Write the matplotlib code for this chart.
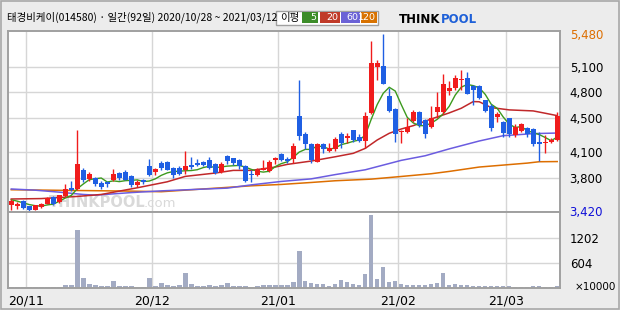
import matplotlib.pyplot as plt
from matplotlib.patches import Rectangle

plt.rcParams['font.family'] = ['Noto Sans CJK KR', 'DejaVu Sans']

title = '태경비케이(014580) · 일간(92일) 2020/10/28 ~ 2021/03/12'
month_labels = ['20/11', '20/12', '21/01', '21/02', '21/03']
month_start = [3, 24, 45, 65, 83]          # first trading day of each month
price_ticks = [5480, 5100, 4800, 4500, 4100, 3800, 3420]
price_labels = ['5,480', '5,100', '4,800', '4,500', '4,100', '3,800', '3,420']
vol_ticks = [1202, 604]

opens = [3480, 3476, 3526, 3468, 3429, 3460, 3499, 3577, 3518, 3585,
         3686, 3667, 3889, 3791, 3795, 3741, 3752, 3772, 3858, 3870,
         3819, 3713, 3772, 3936, 3869, 3975, 3983, 3912, 3920, 3889,
         3947, 3975, 3983, 4014, 3959, 3873, 4053, 4029, 4006, 3943,
         3850, 3834, 3893, 3881, 4010, 4076, 4021, 4021, 4520, 4318,
         4193, 3990, 4193, 4115, 4138, 4310, 4271, 4357, 4275, 4232,
         4556, 5090, 5113, 4762, 4606, 4334, 4333, 4466, 4567, 4474,
         4396, 4567, 4567, 4817, 4848, 4942, 4965, 4871, 4871, 4708,
         4645, 4513, 4450, 4497, 4302, 4349, 4380, 4372, 4216, 4208,
         4216, 4243]
highs = [3557, 3518, 3538, 3472, 3490, 3510, 3575, 3585, 3600, 3733,
         3764, 4357, 3920, 3870, 3810, 3764, 3764, 3908, 3870, 3889,
         3830, 3780, 3792, 4025, 3920, 3998, 3998, 3928, 3936, 4111,
         4045, 4025, 3998, 4045, 3975, 3986, 4072, 4037, 4021, 3951,
         3893, 3912, 4006, 4006, 4049, 4092, 4045, 4205, 4945, 4334,
         4208, 4208, 4208, 4205, 4279, 4341, 4322, 4361, 4310, 4567,
         5402, 5176, 5480, 4848, 4614, 4360, 4497, 4595, 4583, 4489,
         4645, 4801, 5012, 4934, 5004, 5066, 5035, 4887, 4887, 4715,
         4661, 4575, 4466, 4505, 4427, 4439, 4400, 4388, 4341, 4302,
         4263, 4567]
lows = [3429, 3440, 3440, 3420, 3425, 3450, 3495, 3490, 3505, 3580,
        3650, 3660, 3752, 3770, 3702, 3675, 3694, 3764, 3780, 3772,
        3694, 3694, 3733, 3819, 3830, 3889, 3889, 3803, 3830, 3850,
        3908, 3936, 3936, 3908, 3850, 3858, 3960, 3951, 3904, 3756,
        3748, 3826, 3890, 3873, 3959, 3998, 3971, 3971, 4244, 4138,
        3971, 3982, 4088, 4107, 4115, 4154, 4205, 4224, 4224, 4154,
        4544, 4946, 4895, 4567, 4224, 4208, 4322, 4450, 4400, 4271,
        4388, 4497, 4544, 4770, 4829, 4829, 4778, 4653, 4723, 4567,
        4349, 4458, 4283, 4283, 4283, 4341, 4283, 4177, 3998, 4088,
        4205, 4232]
closes = [3526, 3499, 3452, 3429, 3480, 3499, 3569, 3499, 3596, 3667,
          3655, 3959, 3772, 3850, 3725, 3694, 3725, 3842, 3803, 3780,
          3713, 3752, 3749, 3830, 3905, 3920, 3897, 3830, 3842, 3936,
          3928, 3951, 3951, 3920, 3858, 3967, 3998, 3971, 3939, 3764,
          3835, 3893, 3912, 3990, 4037, 4010, 3998, 4177, 4294, 4193,
          4006, 4201, 4138, 4154, 4251, 4205, 4287, 4244, 4232, 4528,
          5140, 5144, 4899, 4583, 4310, 4349, 4400, 4575, 4419, 4310,
          4497, 4626, 4895, 4856, 4965, 4957, 4786, 4825, 4731, 4583,
          4380, 4544, 4322, 4310, 4396, 4427, 4310, 4201, 4201, 4224,
          4240, 4528]
volume = [24, 24, 24, 24, 24, 24, 24, 24, 24, 72, 72, 1387, 239, 96, 72,
          48, 48, 167, 48, 48, 48, 32, 32, 239, 48, 120, 72, 48, 72, 359,
          96, 48, 48, 72, 48, 72, 120, 48, 48, 48, 24, 48, 72, 72, 72, 72,
          72, 143, 885, 167, 120, 96, 96, 48, 96, 191, 143, 96, 72, 335,
          1745, 215, 502, 143, 167, 96, 72, 72, 72, 72, 96, 120, 359, 72,
          96, 72, 72, 48, 48, 48, 48, 48, 48, 48, 24, 24, 24, 48, 48, 24,
          24, 48]

# moving averages
ma5 = [3546, 3530, 3510, 3490, 3477, 3472, 3486, 3495, 3529, 3566,
       3597, 3675, 3730, 3781, 3792, 3800, 3753, 3767, 3758, 3769,
       3773, 3778, 3759, 3765, 3790, 3831, 3860, 3876, 3879, 3885,
       3887, 3897, 3922, 3937, 3922, 3929, 3939, 3943, 3947, 3928,
       3901, 3880, 3869, 3879, 3933, 3968, 3989, 4042, 4103, 4134,
       4134, 4174, 4166, 4138, 4150, 4190, 4207, 4228, 4244, 4299,
       4486, 4658, 4789, 4859, 4815, 4657, 4508, 4443, 4411, 4411,
       4440, 4485, 4549, 4637, 4768, 4860, 4892, 4878, 4853, 4776,
       4661, 4613, 4512, 4428, 4390, 4400, 4353, 4329, 4307, 4273,
       4235, 4279]
ma20_x = [0, 5, 11, 15, 18, 21, 26, 29, 34, 37, 40, 44, 46, 50, 54, 57, 59,
          61, 63, 65, 67, 70, 73, 75, 77, 78, 80, 83, 87, 89, 91]
ma20 = [3555, 3560, 3585, 3608, 3647, 3686, 3756, 3819, 3858, 3889, 3889,
        3928, 3959, 3998, 4048, 4088, 4146, 4244, 4322, 4372, 4411, 4489,
        4560, 4614, 4692, 4690, 4622, 4595, 4583, 4556, 4528]
ma60_x = [0, 4, 8, 12, 14, 17, 20, 25, 30, 36, 40, 45, 50, 54, 59, 65, 69,
          73, 78, 82, 87, 91]
ma60 = [3672, 3658, 3635, 3608, 3600, 3615, 3630, 3650, 3665, 3682, 3720,
        3760, 3790, 3840, 3896, 4006, 4060, 4140, 4232, 4294, 4318, 4325]
ma120_x = [0, 10, 20, 25, 30, 35, 40, 45, 50, 54, 60, 65, 70, 73, 78, 82,
           86, 88, 91]
ma120 = [3663, 3655, 3647, 3640, 3663, 3686, 3709, 3725, 3748, 3768, 3787,
         3818, 3850, 3877, 3928, 3951, 3974, 3990, 3992]

UP, DOWN = '#f01c1c', '#1f5fe3'
GRID = '#d6d6d6'
FRAME = '#a0a0a0'

fig = plt.figure(figsize=(6.2, 3.1), dpi=100, facecolor='#ececec')
fig.patches.append(Rectangle((0.001, 0.002), 0.997, 0.995, transform=fig.transFigure,
                             fill=False, edgecolor='#a8a8a8', lw=1.2))

ax = fig.add_axes([0.0121, 0.3152, 0.891, 0.5832], facecolor='white')
axv = fig.add_axes([0.0121, 0.071, 0.891, 0.2442], facecolor='white', sharex=ax)

n = len(closes)
idx = list(range(n))

for a in (ax, axv):
    for s in a.spines.values():
        s.set_color(FRAME)
        s.set_linewidth(1.4)
    for m in month_start:
        a.axvline(m - 0.5, color=GRID, lw=1, zorder=0)

for t in price_ticks[1:-1]:
    ax.axhline(t, color=GRID, lw=1, zorder=0)
for t in vol_ticks:
    axv.axhline(t, color=GRID, lw=1, zorder=0)

# watermark
ax.text(6.3, 3425, 'THINKPOOL', color='#d9d9d9', fontsize=10.5, fontweight='bold',
        family=['DejaVu Sans'], va='bottom', zorder=1)
ax.text(22.0, 3425, '.com', color='#d9d9d9', fontsize=9.5,
        family=['DejaVu Sans'], va='bottom', zorder=1)

# moving averages
ax.plot(ma120_x, ma120, color='#dd6e00', lw=1.1, zorder=2)
ax.plot(ma60_x, ma60, color='#6b5ce0', lw=1.1, zorder=2)
ax.plot(ma20_x, ma20, color='#c0282a', lw=1.1, zorder=2)
ax.plot(idx, ma5, color='#3c9a1e', lw=1.0, zorder=2)

# candles
for i in idx:
    o, h, l, c = opens[i], highs[i], lows[i], closes[i]
    col = UP if c >= o else DOWN
    ax.vlines(i, l, h, color=col, lw=1, zorder=3)
    ax.bar(i, max(abs(c - o), 12), bottom=min(o, c), width=0.8, color=col,
           zorder=4, linewidth=0)

axv.bar(idx, volume, width=0.75, color='#a3abc3', linewidth=0, zorder=2)

ax.set_xlim(-0.63, 91.45)
ax.set_ylim(3400, 5510)
axv.set_ylim(0, 1805)

ax.yaxis.tick_right()
ax.set_yticks(price_ticks)
ax.set_yticklabels(price_labels, fontsize=8.5, family=['DejaVu Sans'])
ax.tick_params(axis='y', length=0, pad=7)
ax.tick_params(axis='x', bottom=False, labelbottom=False)
ax.get_yticklabels()[0].set_color('#dd6e00')
ax.get_yticklabels()[-1].set_color('#1010d8')

axv.yaxis.tick_right()
axv.set_yticks(vol_ticks)
axv.set_yticklabels([str(v) for v in vol_ticks], fontsize=8.5, family=['DejaVu Sans'])
axv.tick_params(axis='y', length=0, pad=7)
axv.set_xticks([m - 0.5 for m in month_start])
axv.set_xticklabels(month_labels, fontsize=9, family=['DejaVu Sans'])
axv.tick_params(axis='x', length=0, pad=5)

fig.text(0.926, 1 - 287 / 310, '×10000', fontsize=7.5, va='center',
         family=['DejaVu Sans'])

# header
fig.text(0.011, 1 - 17.5 / 310, title, fontsize=7.5, va='center')

# moving average legend box
fig.patches.append(Rectangle((276 / 620, 1 - 24.5 / 310), 102 / 620, 13.5 / 310,
                             transform=fig.transFigure, facecolor='white',
                             edgecolor='#a0a0a0', lw=1))
fig.text(280 / 620, 1 - 17.5 / 310, '이평', fontsize=7.5, va='center')
legend_items = [('5', '#3c8c28', 302, 318), ('20', '#c03a28', 320, 340),
                ('60', '#6b62d6', 341, 360), ('120', '#d87200', 361, 377)]
for lab, col, x0, x1 in legend_items:
    fig.patches.append(Rectangle((x0 / 620, 1 - 23 / 310), (x1 - x0) / 620, 10.5 / 310,
                                 transform=fig.transFigure, facecolor=col, lw=0))
    fig.text((x1 - 1.5) / 620, 1 - 17.8 / 310, lab, fontsize=6.8, color='white',
             ha='right', va='center', family=['DejaVu Sans'])

# logo
fig.text(440 / 620, 1 - 19.5 / 310, 'THINK', fontsize=8.5, fontweight='bold',
         color='black', ha='right', va='center', family=['DejaVu Sans'])
fig.text(441 / 620, 1 - 19.5 / 310, 'POOL', fontsize=8.5, fontweight='bold',
         color='#1e60d8', ha='left', va='center', family=['DejaVu Sans'])

fig.savefig('out.png', dpi=100, facecolor=fig.get_facecolor())
